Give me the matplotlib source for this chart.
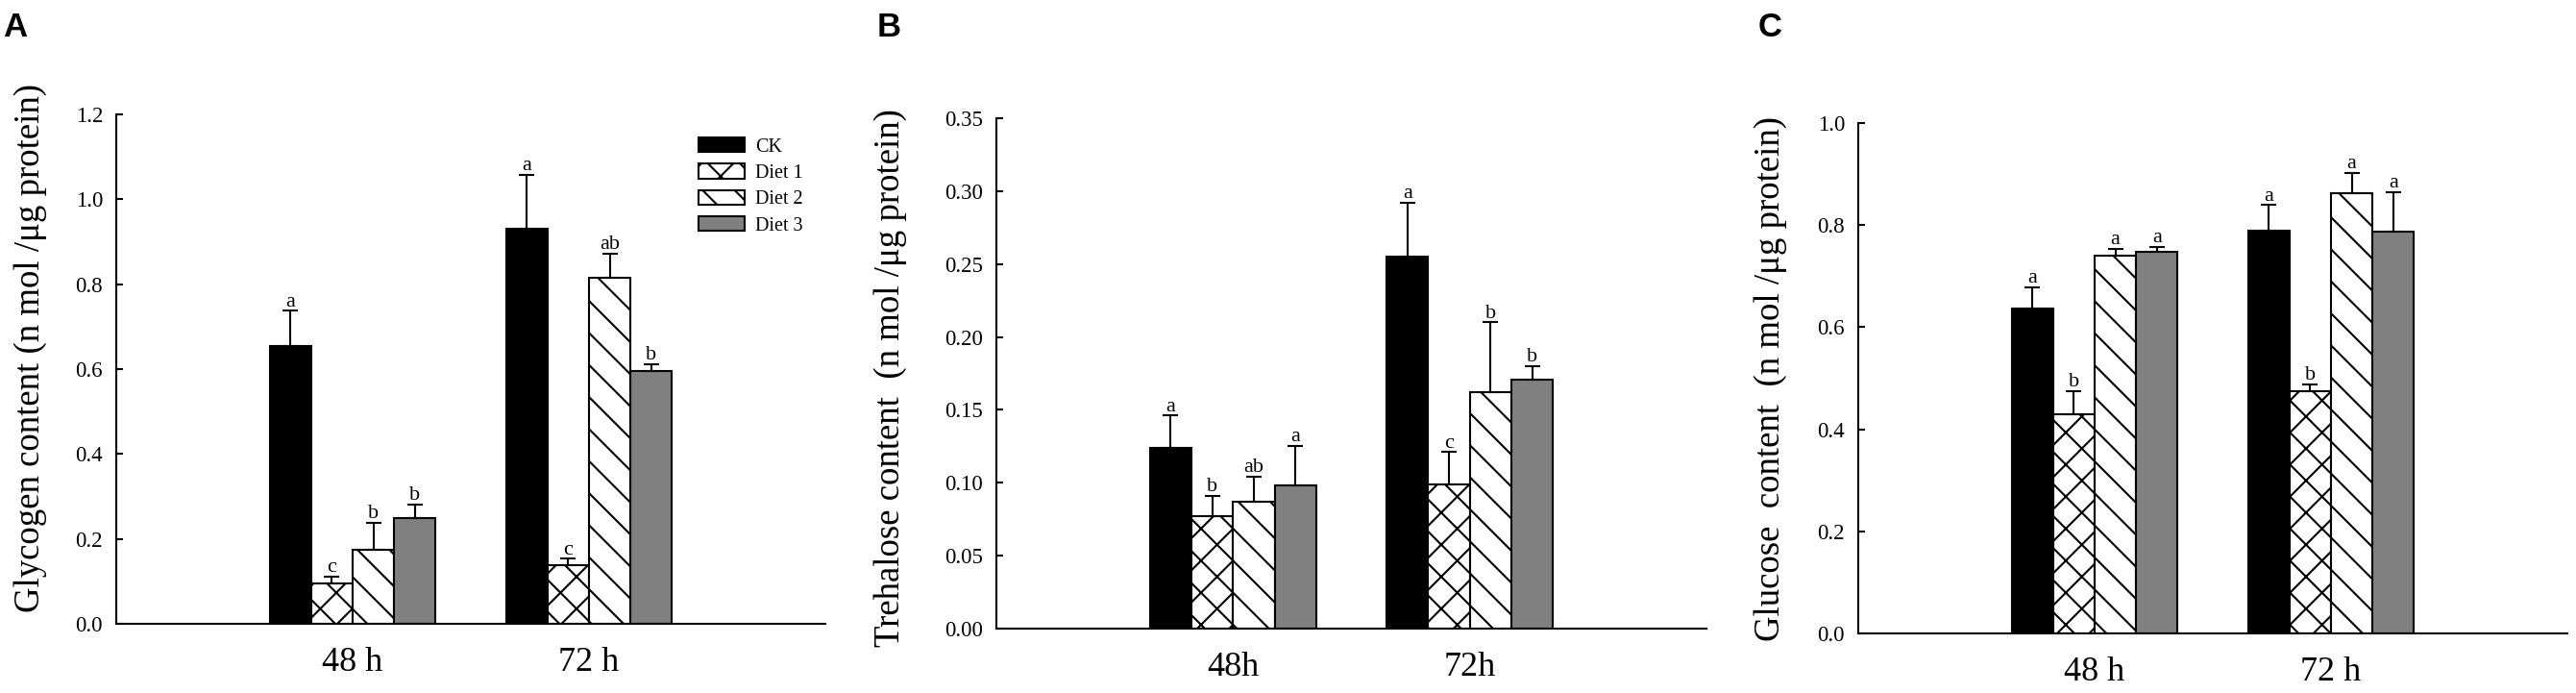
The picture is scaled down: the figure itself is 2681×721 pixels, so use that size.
import matplotlib
matplotlib.use("Agg")
import matplotlib.pyplot as plt
import numpy as np

plt.rcParams['font.family'] = ['Liberation Serif', 'DejaVu Serif']
plt.rcParams['hatch.linewidth'] = 1.5

groups = ['48 h', '72 h']
groups_b = ['48h', '72h']
series = ['CK', 'Diet 1', 'Diet 2', 'Diet 3']

# A: glycogen
gly_mean = {'CK': [0.654, 0.931], 'Diet 1': [0.096, 0.137],
            'Diet 2': [0.175, 0.815], 'Diet 3': [0.250, 0.595]}
gly_err = {'CK': [0.083, 0.126], 'Diet 1': [0.016, 0.016],
           'Diet 2': [0.063, 0.057], 'Diet 3': [0.030, 0.017]}
gly_sig = {'CK': ['a', 'a'], 'Diet 1': ['c', 'c'],
           'Diet 2': ['b', 'ab'], 'Diet 3': ['b', 'b']}

# B: trehalose
tre_mean = {'CK': [0.124, 0.255], 'Diet 1': [0.077, 0.099],
            'Diet 2': [0.087, 0.162], 'Diet 3': [0.098, 0.171]}
tre_err = {'CK': [0.022, 0.037], 'Diet 1': [0.014, 0.022],
           'Diet 2': [0.017, 0.048], 'Diet 3': [0.027, 0.009]}
tre_sig = {'CK': ['a', 'a'], 'Diet 1': ['b', 'c'],
           'Diet 2': ['ab', 'b'], 'Diet 3': ['a', 'b']}

# C: glucose
glu_mean = {'CK': [0.637, 0.790], 'Diet 1': [0.429, 0.474],
            'Diet 2': [0.740, 0.863], 'Diet 3': [0.748, 0.788]}
glu_err = {'CK': [0.041, 0.049], 'Diet 1': [0.045, 0.014],
           'Diet 2': [0.014, 0.040], 'Diet 3': [0.009, 0.076]}
glu_sig = {'CK': ['a', 'a'], 'Diet 1': ['b', 'b'],
           'Diet 2': ['a', 'a'], 'Diet 3': ['a', 'a']}

styles = {'CK': dict(color='black', hatch=None),
          'Diet 1': dict(color='white', hatch='x'),
          'Diet 2': dict(color='white', hatch='\\'),
          'Diet 3': dict(color='#808080', hatch=None)}

fig = plt.figure(figsize=(26.81, 7.21), dpi=100)

W, H = 2681, 721
def px_axes(l, r, b, t):
    return fig.add_axes([l / W, (H - b) / H, (r - l) / W, (b - t) / H])

axA = px_axes(121, 859, 649, 119)
axB = px_axes(1037, 1776, 654, 123)
axC = px_axes(1934, 2672, 659, 128)

w = 0.1755
xpos = np.array([1, 2])

def panel(ax, mean, err, sig, ymax, step, fmt, xlabels, ylabel, lab_xy):
    for i, s in enumerate(series):
        x = xpos + (i - 1.5) * w
        st = styles[s]
        ax.bar(x, mean[s], w, color=st['color'], hatch=st['hatch'],
               edgecolor='black', linewidth=1.5, label=s, zorder=2)
        ax.errorbar(x, mean[s], yerr=[np.zeros(2), err[s]], fmt='none',
                    ecolor='black', elinewidth=1.5, capsize=5.8,
                    capthick=1.5, zorder=3)
        for xi, m, e, t in zip(x, mean[s], err[s], sig[s]):
            ax.annotate(t, (xi, m + e), xytext=(0, 3.5),
                        textcoords='offset points', ha='center',
                        va='baseline', fontsize=16)
    ax.set_xlim(0, 3)
    ax.set_ylim(0, ymax)
    ticks = np.arange(0, ymax + step / 2, step)
    ax.set_yticks(ticks)
    ax.set_yticklabels([fmt % v for v in ticks])
    ax.set_xticks(xpos)
    ax.set_xticklabels(xlabels, fontsize=26)
    ax.tick_params(axis='x', length=0, pad=17)
    ax.tick_params(axis='y', direction='in', length=5, width=1.5,
                   labelsize=16.5, pad=10)
    for sp in ['top', 'right']:
        ax.spines[sp].set_visible(False)
    for sp in ['left', 'bottom']:
        ax.spines[sp].set_linewidth(1.5)
    ax.text(lab_xy[0], lab_xy[1], ylabel, transform=ax.transAxes,
            rotation=90, ha='center', va='center', fontsize=26.5)

panel(axA, gly_mean, gly_err, gly_sig, 1.2, 0.2, '%.1f', groups,
      'Glycogen content (n mol /\u03bcg protein)', (-0.1206, 0.5415))
panel(axB, tre_mean, tre_err, tre_sig, 0.35, 0.05, '%.2f', groups_b,
      'Trehalose content  (n mol /\u03bcg protein)', (-0.1496, 0.4915))
panel(axC, glu_mean, glu_err, glu_sig, 1.0, 0.2, '%.1f', groups,
      'Glucose  content  (n mol /\u03bcg protein)', (-0.1233, 0.499))

axA.legend(loc='upper left', bbox_to_anchor=(0.821, 0.955), frameon=False,
           fontsize=14.5, handlelength=2.4, handleheight=0.8,
           handletextpad=0.55, labelspacing=0.38, borderpad=0,
           borderaxespad=0)

for letter, xp in [('A', 3), ('B', 913), ('C', 1830)]:
    fig.text(xp / W, 1 - 38 / H, letter, fontsize=25, fontweight='bold',
             family='Liberation Sans', va='baseline', ha='left')

fig.savefig('out.png', dpi=100)
